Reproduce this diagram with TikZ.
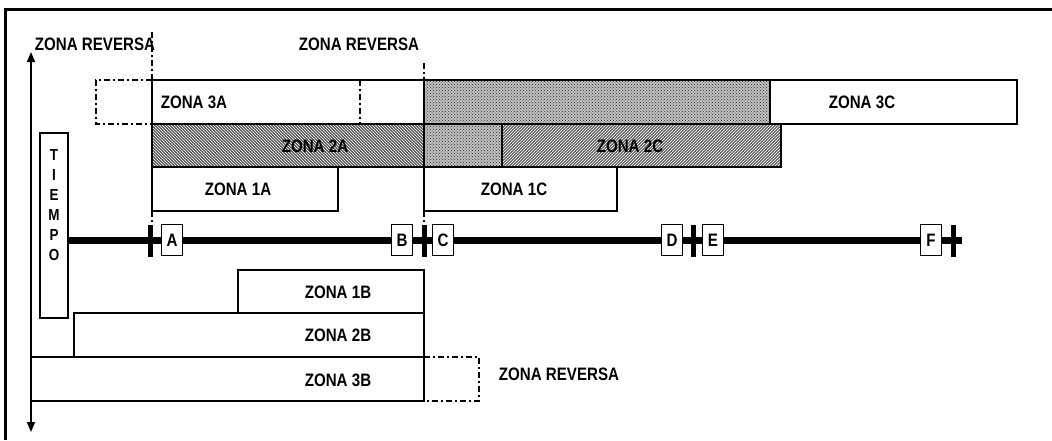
\documentclass[tikz,border=0pt]{standalone}
\usepackage{fontspec}
\setmainfont{Liberation Sans}[FakeStretch=0.84]
\usetikzlibrary{arrows.meta,patterns}

\begin{document}
\begin{tikzpicture}[
  x=1pt, y=-1pt,
  lbl/.style={font=\bfseries\fontsize{18}{19}\selectfont, inner sep=0pt},
  outline/.style={draw, line width=1.7pt},
  reversa/.style={draw, line width=1.4pt, dash pattern=on 6pt off 3pt on 2pt off 3pt},
  hatchA/.style={outline, preaction={fill=black!65}, pattern=north west lines, pattern color=white},
  hatchC/.style={outline, preaction={fill=black!60}, pattern=north east lines, pattern color=white},
  puntos/.style={outline, preaction={fill=black!25}, pattern=crosshatch dots, pattern color=black!80},
  letra/.style={draw, fill=white, line width=1.7pt, minimum width=21pt, minimum height=31pt, inner sep=0pt, font=\bfseries\fontsize{18}{18}\selectfont},
  marca/.style={line width=5pt},
  >={Triangle[length=10pt,width=8pt]}
]
\useasboundingbox (0,0) rectangle (1052,440);

% marco
\draw[line width=3pt] (5,440) -- (5,9) -- (1052,9);

% eje del tiempo
\draw[<->, line width=1.6pt] (31,52) -- (31,432);
\node[draw, line width=1.7pt, minimum width=28pt, minimum height=185pt, inner sep=0pt] (tiempo) at (54,225.5) {};
\node[font=\bfseries\fontsize{16}{20}\selectfont, align=center, inner sep=0pt] (tiempotxt) at (54,205) {T\\I\\E\\M\\P\\O};

% fila 3A / 3C
\draw[reversa] (152,80) -- (96,80) -- (96,124) -- (152,124);
\draw[outline, fill=white] (152,80) rectangle (424,124);
\draw[reversa] (360,80) -- (360,124);
\draw[puntos] (424,80) rectangle (770,124);
\draw[outline, fill=white] (770,80) rectangle (1017,124);

% fila 2A / 2C
\draw[hatchA] (152,124) rectangle (424,167);
\draw[puntos] (424,124) rectangle (502,167);
\draw[hatchC] (502,124) rectangle (781,167);

% fila 1A / 1C
\draw[outline] (152,167) rectangle (338,211);
\draw[outline] (424,167) rectangle (617,211);

% zonas B
\draw[outline] (238,270) rectangle (424,313);
\draw[outline] (74,313) rectangle (424,357);
\draw[outline] (31,357) rectangle (424,401);
\draw[reversa] (424,357) -- (479,357) -- (479,401) -- (424,401);

% limites de zona reversa
\draw[reversa] (152,32) -- (152,80);
\draw[reversa] (424,63) -- (424,80);
\draw[reversa] (152,211) -- (152,228);
\draw[reversa] (424,211) -- (424,228);

% linea
\draw[line width=7pt] (tiempo.east |- 0,240) -- (962,240);
\foreach \x in {150,424,693,953}
  \draw[marca] (\x,225) -- (\x,257);
\foreach \l/\x in {A/172,B/402,C/443,D/672,E/713,F/931}
  \node[letra] (\l) at (\x,240) {\l};

% textos
\node[lbl] (rev1) at (95,44) {ZONA REVERSA};
\node[lbl] (rev2) at (359,44) {ZONA REVERSA};
\node[lbl] (rev3) at (559,374) {ZONA REVERSA};
\node[lbl] (z3a) at (194,102) {ZONA 3A};
\node[lbl] (z3c) at (862,102) {ZONA 3C};
\node[lbl] (z2a) at (315,146) {ZONA 2A};
\node[lbl] (z2c) at (630,146) {ZONA 2C};
\node[lbl] (z1a) at (238,189) {ZONA 1A};
\node[lbl] (z1c) at (514,189) {ZONA 1C};
\node[lbl] (z1b) at (338,292) {ZONA 1B};
\node[lbl] (z2b) at (338,335) {ZONA 2B};
\node[lbl] (z3b) at (338,380) {ZONA 3B};

\end{tikzpicture}
\end{document}
